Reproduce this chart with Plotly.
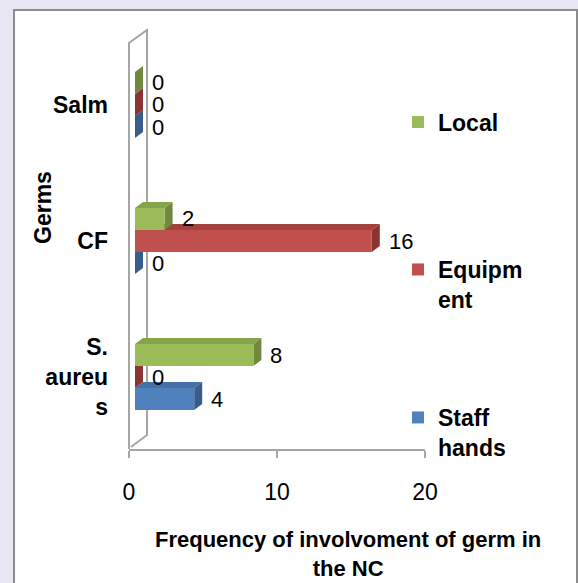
import plotly.graph_objects as go

# ---------------- data ----------------
categories = ["S. aureus", "CF", "Salm"]
category_labels = ["S.<br>aureu<br>s", "CF", "Salm"]
series_names = ["Staff<br>hands", "Equipm<br>ent", "Local"]
staff_hands = [4, 0, 0]
equipment = [0, 16, 0]
local = [8, 2, 0]
x_ticks = [0, 10, 20]
x_title = "Frequency of involvoment of germ in<br>the NC"
y_title = "Germs"

series_values = [staff_hands, equipment, local]

# ---------------- layout helpers ----------------
W, H = 578, 583
L, R = 129, 425      # plot area in pixels (x)
T, B = 30, 449       # plot area in pixels (y)


def px_x(p):
    return (p - L) / (R - L)


def px_y(p):
    return (B - p) / (B - T)


FONT = "Liberation Sans"
front_colors = ["#4F81BD", "#C0504D", "#9BBB59"]
top_colors = ["#4571A9", "#A3413E", "#86A44A"]
side_colors = ["#385D8A", "#8C3431", "#71893F"]
legend_ids = ["legend3", "legend2", "legend"]
legend_centers = [418, 270, 122.5]

bar_h = 0.162
offsets = [-bar_h, 0.0, bar_h]
depth_x = 0.54
depth_y = 0.044
px_per_unit = (R - L) / 20.0
front_shift = 6 / px_per_unit

fig = go.Figure()
shapes = []
annotations = []

# card background
shapes.append(dict(type="rect", xref="paper", yref="paper",
                   x0=px_x(14), x1=px_x(577), y0=px_y(10), y1=px_y(595),
                   fillcolor="white", line=dict(color="#8C8C8C", width=2),
                   layer="below"))
# 3D wall outline
wall = "M{:.4f},{:.4f} L{:.4f},{:.4f} L{:.4f},{:.4f} L{:.4f},{:.4f} L{:.4f},{:.4f}".format(
    px_x(129), px_y(449), px_x(129), px_y(43), px_x(147), px_y(30),
    px_x(147), px_y(435), px_x(131), px_y(447))
shapes.append(dict(type="path", xref="paper", yref="paper", path=wall,
                   line=dict(color="#A6A6A6", width=2), layer="below"))

# empty trace so that the visible x/y subplot is created
fig.add_trace(go.Scatter(x=[None], y=[None], xaxis="x", yaxis="y",
                         showlegend=False, hoverinfo="skip"))

for si, vals in enumerate(series_values):
    ys = [i + offsets[si] for i in range(len(categories))]
    fig.add_trace(go.Bar(
        x=vals, y=ys, orientation="h", width=bar_h,
        marker=dict(color=front_colors[si], line=dict(width=0)),
        name=series_names[si], xaxis="x2", yaxis="y",
        legend=legend_ids[si], showlegend=True,
        hovertext=[f"{c}: {v}" for c, v in zip(categories, vals)],
        hoverinfo="text",
    ))
    for v, y in zip(vals, ys):
        yt = y + bar_h / 2
        yb = y - bar_h / 2
        top = "M0,{yt} L{v},{yt} L{vd},{ytd} L{dx},{ytd} Z".format(
            yt=yt, v=v, vd=v + depth_x, ytd=yt + depth_y, dx=depth_x)
        side = "M{v},{yb} L{vd},{ybd} L{vd},{ytd} L{v},{yt} Z".format(
            v=v, vd=v + depth_x, yb=yb, ybd=yb + depth_y, ytd=yt + depth_y, yt=yt)
        shapes.append(dict(type="path", xref="x2", yref="y", path=top,
                           fillcolor=top_colors[si], line=dict(width=0), layer="below"))
        shapes.append(dict(type="path", xref="x2", yref="y", path=side,
                           fillcolor=side_colors[si], line=dict(width=0), layer="below"))
        annotations.append(dict(x=v, y=y, xref="x2", yref="y", text=str(v),
                                showarrow=False, xanchor="left", yanchor="middle",
                                xshift=16, borderpad=0,
                                font=dict(family=FONT, size=22, color="black")))

# axis titles
annotations.append(dict(x=px_x(43), y=px_y(208), xref="paper", yref="paper",
                        text=y_title, textangle=-90, showarrow=False,
                        xanchor="center", yanchor="middle",
                        font=dict(family=FONT, size=23, color="black", weight="bold")))
annotations.append(dict(x=px_x(348), y=px_y(554), xref="paper", yref="paper",
                        text=x_title, showarrow=False, borderpad=0,
                        xanchor="center", yanchor="middle",
                        font=dict(family=FONT, size=22, color="black", weight="bold")))

legend_common = dict(
    xanchor="left", yanchor="top", bgcolor="rgba(0,0,0,0)", borderwidth=0,
    valign="top", font=dict(family=FONT, size=23, color="black", weight="bold"),
)
legends = {}
for lid, cy in zip(legend_ids, legend_centers):
    legends[lid] = dict(x=px_x(398), y=px_y(cy - 22), **legend_common)

fig.update_layout(
    width=W, height=H, autosize=False,
    margin=dict(l=L, r=W - R, t=T, b=H - B, pad=0),
    paper_bgcolor="#E8E6F3", plot_bgcolor="white",
    barmode="overlay",
    font=dict(family=FONT, color="black"),
    xaxis=dict(range=[0, 20], tickvals=x_ticks, ticktext=[str(t) for t in x_ticks],
               showgrid=False, zeroline=False, showline=True, linecolor="#A6A6A6",
               linewidth=2, ticks="outside", ticklen=7, tickcolor="#A6A6A6", tickwidth=2,
               ticklabelstandoff=14,
               tickfont=dict(family=FONT, size=23, color="black")),
    xaxis2=dict(range=[-front_shift, 20 - front_shift], overlaying="x", anchor="y",
                visible=False, showgrid=False, zeroline=False),
    yaxis=dict(range=[-0.529, 2.551], tickvals=list(range(len(categories))),
               ticktext=category_labels, showgrid=False, zeroline=False,
               showline=False, ticks="", ticklabelstandoff=20,
               tickfont=dict(family=FONT, size=23, color="black", weight="bold")),
    shapes=shapes,
    annotations=annotations,
    **legends,
)

fig.write_html("out.html", config={"displayModeBar": False},
               post_script="document.body.style.margin='0';document.body.style.overflow='hidden';")
